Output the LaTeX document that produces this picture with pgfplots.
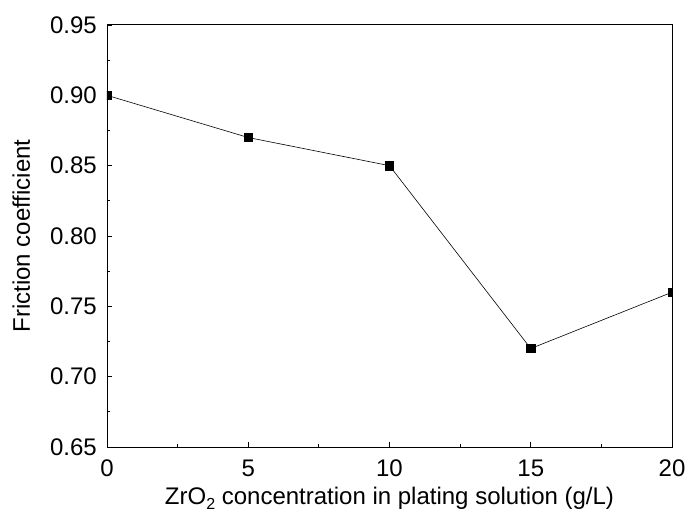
\documentclass[border=0pt]{standalone}
\usepackage{fontspec}
\setmainfont{Liberation Sans}
\usepackage{pgfplots}
\pgfplotsset{compat=1.18}
\begin{document}
\begin{tikzpicture}
\begin{axis}[
    name=main,
    scale only axis,
    width=565bp, height=422bp,
    xmin=0, xmax=20, ymin=0.65, ymax=0.95,
    xtick={0,5,...,20},
    ytick={0.65,0.70,...,0.951},
    minor x tick num=1, minor y tick num=1,
    tick align=inside,
    xtick pos=bottom, ytick pos=left,
    major tick length=5bp, minor tick length=3.5bp,
    clip marker paths=true,
    /pgf/number format/assume math mode=true,
    tick label style={font=\fontsize{24bp}{28bp}\selectfont, black, inner sep=0pt},
    yticklabel style={/pgf/number format/fixed, /pgf/number format/fixed zerofill, /pgf/number format/precision=2, anchor=east, xshift=-10bp},
    xticklabel style={anchor=north, yshift=-13bp},
    every axis x label/.style={at={(axis description cs:0.5,0)}, anchor=base, yshift=-57bp,
        font=\fontsize{24bp}{28bp}\selectfont, inner sep=0pt},
    every axis y label/.style={at={(axis description cs:0,0.5)}, rotate=90, anchor=base, yshift=77bp,
        font=\fontsize{24bp}{28bp}\selectfont, inner sep=0pt},
    xlabel={ZrO\raisebox{-0.45ex}{\fontsize{16bp}{18bp}\selectfont 2} concentration in plating solution (g/L)},
    ylabel={Friction coefficient},
    axis line style={line width=1pt},
    every tick/.style={black, line width=0.9pt},
]
\addplot[black, line width=0.6pt, mark=square*, mark size=4.2bp]
    coordinates {(0,0.90) (5,0.87) (10,0.85) (15,0.72) (20,0.76)};
\end{axis}
\pgfresetboundingbox
\path ([shift={(-107bp,-73bp)}]main.south west) rectangle ([shift={(16bp,25bp)}]main.north east);
\end{tikzpicture}
\end{document}
